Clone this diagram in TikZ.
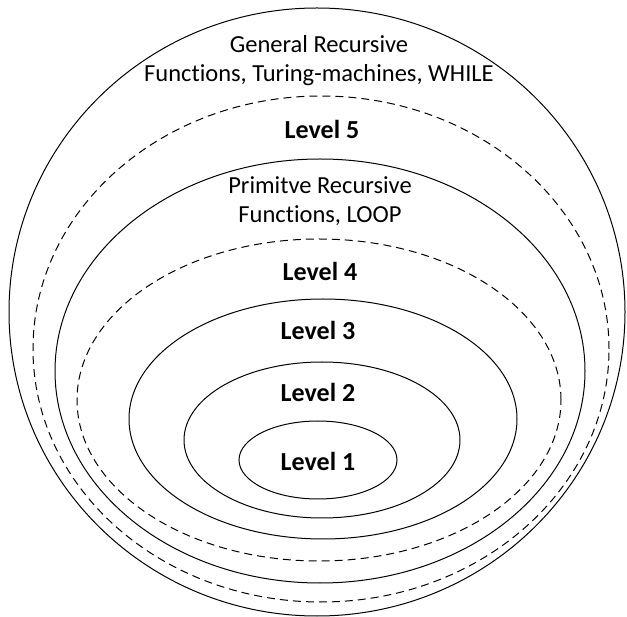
\documentclass[tikz,border=0pt]{standalone}
\usepackage{fontspec}
\setmainfont{Carlito}[Ligatures=NoCommon]
\usetikzlibrary{shapes.geometric,positioning}
\tikzset{
  ring/.style={draw, ellipse, line width=1pt, inner sep=0pt},
  dashring/.style={ring, dash pattern=on 8pt off 5pt},
  lbl/.style={font=\fontsize{24.5}{29}\selectfont, align=center, inner sep=0pt},
  lvl/.style={lbl, font=\fontsize{26}{29}\selectfont\bfseries}
}
\begin{document}
\begin{tikzpicture}[x=1pt,y=-1pt]
  \useasboundingbox (0,0) rectangle (627,617);
  % nested classes, outermost first
  \node[ring, minimum width=616pt, minimum height=608pt] (general) at (317,312) {};
  \node[dashring, minimum width=576pt, minimum height=506pt] (five) at (321,349) {};
  \node[ring, minimum width=530pt, minimum height=424pt] (primitive) at (320,371) {};
  \node[dashring, minimum width=484pt, minimum height=322pt] (four) at (319,400) {};
  \node[ring, minimum width=388pt, minimum height=240pt] (three) at (323,419) {};
  \node[ring, minimum width=276pt, minimum height=156pt] (two) at (322,440) {};
  \node[ring, minimum width=158pt, minimum height=78pt] (one) at (318,460) {};
  % labels
  \node[lbl] (generaltxt) at (319,61) {General Recursive\\Functions, Turing-machines, WHILE};
  \node[lvl] (fivetxt) at (322,129) {Level 5};
  \node[lbl] (primitivetxt) at (320,201) {Primitve Recursive\\Functions, LOOP};
  \node[lvl] (fourtxt) at (320,271) {Level 4};
  \node[lvl] (threetxt) at (318,330) {Level 3};
  \node[lvl] (twotxt) at (318,392) {Level 2};
  \node[lvl] (onetxt) at (318,461) {Level 1};
\end{tikzpicture}
\end{document}
